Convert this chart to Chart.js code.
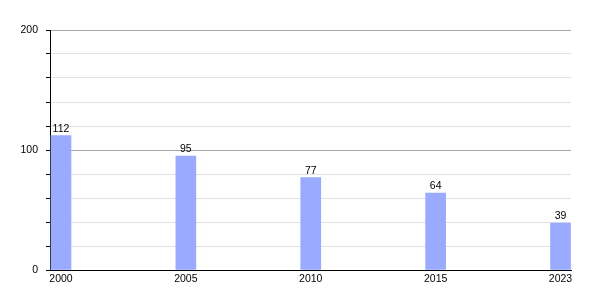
<!DOCTYPE html>
<html>
<head>
<meta charset="utf-8">
<script src="https://cdn.jsdelivr.net/npm/chart.js@4/dist/chart.umd.min.js"></script>
<style>
html,body{margin:0;padding:0;background:#fff;}
#wrap{width:600px;height:300px;}
</style>
</head>
<body>
<div id="wrap"><canvas id="c" width="600" height="300"></canvas></div>
<script>
const years = ["2000", "2005", "2010", "2015", "2023"];
const values = [112, 95, 77, 64, 39];
const yLabeled = [0, 100, 200];

const labelPlugin = {
  id: 'valueLabels',
  afterDatasetsDraw(chart) {
    const ctx = chart.ctx;
    const meta = chart.getDatasetMeta(0);
    ctx.save();
    ctx.fillStyle = '#000';
    ctx.font = '10.5px "Liberation Sans", Arial, sans-serif';
    ctx.textAlign = 'center';
    ctx.textBaseline = 'alphabetic';
    meta.data.forEach((el, i) => {
      ctx.fillText(String(values[i]), el.x, el.y - 4);
    });
    ctx.restore();
  }
};

new Chart(document.getElementById('c'), {
  type: 'bar',
  data: {
    datasets: [{
      data: values.map((v, i) => ({x: i, y: v})),
      backgroundColor: '#99aaff',
      borderWidth: 0,
      barThickness: 20
    }]
  },
  options: {
    responsive: false,
    animation: false,
    devicePixelRatio: 1,
    layout: {padding: {top: 30, right: 29, left: 0, bottom: 0}},
    plugins: {legend: {display: false}, tooltip: {enabled: false}},
    scales: {
      x: {
        type: 'linear',
        min: -0.088,
        max: 4.084,
        offset: false,
        afterBuildTicks(scale) {
          scale.ticks = years.map((y, i) => ({value: i}));
        },
        afterFit(scale) { scale.height = 30; },
        ticks: {
          autoSkip: false,
          maxRotation: 0,
          padding: 3,
          color: '#000',
          font: {family: '"Liberation Sans", Arial, sans-serif', size: 10.5},
          callback: (v) => years[v] !== undefined ? years[v] : ''
        },
        grid: {display: false, drawTicks: false},
        border: {display: true, color: '#000', width: 1}
      },
      y: {
        min: 0,
        max: 200,
        afterFit(scale) { scale.width = 50; },
        ticks: {
          stepSize: 20,
          padding: 8,
          color: '#000',
          font: {family: '"Liberation Sans", Arial, sans-serif', size: 10.5},
          callback: (v) => yLabeled.includes(v) ? String(v) : ''
        },
        grid: {
          drawTicks: true,
          tickLength: 4,
          tickColor: '#000',
          color: (c) => (c.tick && c.tick.value % 100 === 0) ? '#a8a8a8' : '#e2e2e2',
          lineWidth: 1
        },
        border: {display: true, color: '#000', width: 1}
      }
    }
  },
  plugins: [labelPlugin]
});
</script>
</body>
</html>
